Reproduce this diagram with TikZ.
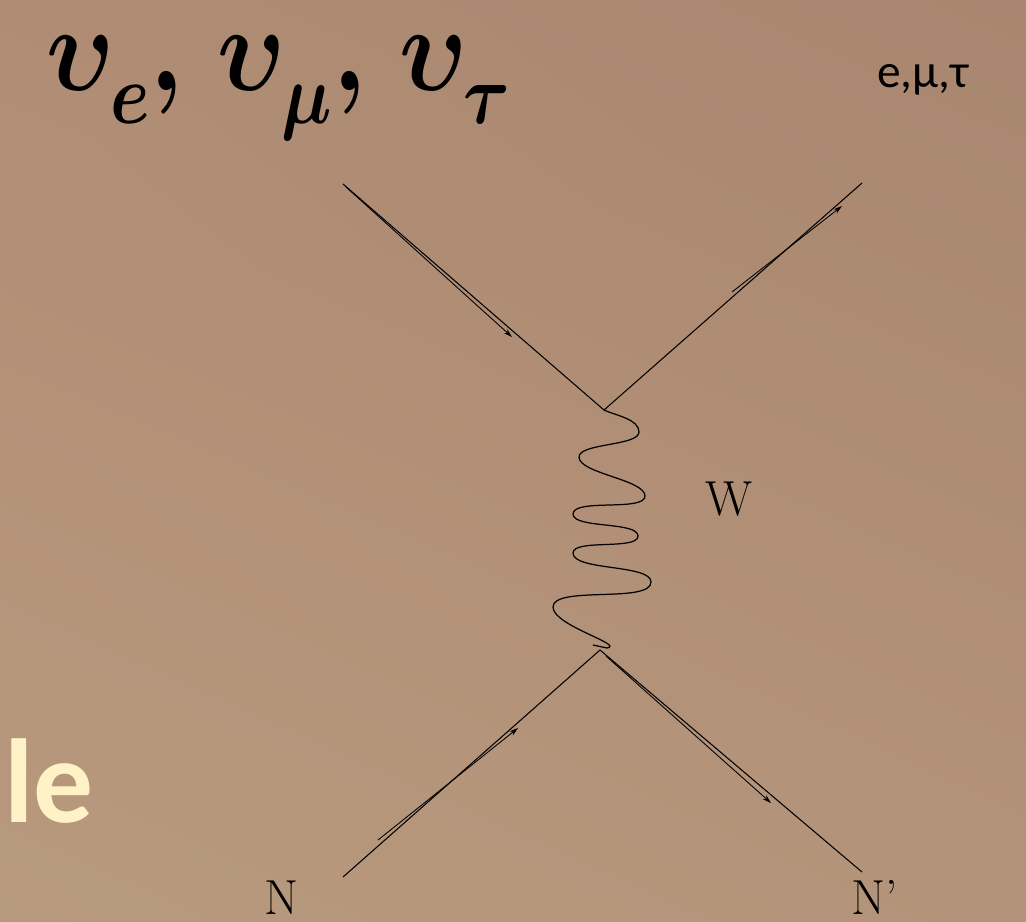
\RequirePackage{fix-cm}
\documentclass[tikz,border=0pt]{standalone}
\usepackage{amsmath, amssymb, bm}
\usepackage{fontspec}
\newfontfamily\calib{Carlito}
\usetikzlibrary{arrows.meta, shadings}
\definecolor{bgTL}{HTML}{B08C74}
\definecolor{bgTR}{HTML}{A8866F}
\definecolor{bgBL}{HTML}{B89A7E}
\definecolor{bgBR}{HTML}{B39379}
\definecolor{paleyellow}{HTML}{FFF2C6}
\newcommand{\lowsub}[1]{_{\raisebox{-0.12em}{\boldmath$\scriptstyle #1$}}}
\tikzset{
  fermion/.style={line width=0.6pt},
  flow/.style={line width=0.5pt, -{Stealth[length=5pt,width=3pt]}},
  boson/.style={line width=0.7pt},
  wig/.style={out=-90, in=90, looseness=0.55},
  lbl/.style={anchor=base west, inner sep=0pt, text=black}
}
\begin{document}
\begin{tikzpicture}[x=0.02cm, y=-0.02cm]
        % Background
        \shade[upper left=bgTL, upper right=bgTR, lower left=bgBL, lower right=bgBR]
            (0,0) rectangle (1026,921);
        \useasboundingbox (0,0) rectangle (1026,921);

        % Coordinates
        \coordinate (nuIn) at (343,184);
        \coordinate (lepOut) at (862,183);
        \coordinate (vTop) at (604,410);
        \coordinate (vBot) at (600,650);
        \coordinate (nIn) at (343,877);
        \coordinate (nOut) at (862,872);
        \coordinate (A) at (346,187);
        \coordinate (B) at (512,337);
        \coordinate (C) at (732,292);
        \coordinate (D) at (842,206);
        \coordinate (E) at (378,840);
        \coordinate (F) at (518,728);
        \coordinate (G) at (606,656);
        \coordinate (H) at (771,803);

        % Drawing
        \draw[fermion] (nuIn) -- (vTop) -- (lepOut);
        \draw[fermion] (nIn) -- (vBot) -- (nOut);
        \draw[flow] (A) -- (B);
        \draw[flow] (C) -- (D);
        \draw[flow] (E) -- (F);
        \draw[flow] (G) -- (H);
        \draw[boson] (vTop) to[out=-25,in=90,looseness=0.8] (639,432)
            to[wig] (579,457)
            to[wig] (645,496)
            to[wig] (573,514)
            to[wig] (638,536)
            to[wig] (573,553)
            to[wig] (651,582)
            to[wig] (553,607)
            to[out=-90,in=10,looseness=0.7] (607,648) -- (593,645);

        % Labels
        \node[lbl] (title) at (46,90) {\fontsize{58}{64}\selectfont
            \scalebox{1}[1.2]{$\bm{\upsilon}\lowsub{e}\bm{,}\, \bm{\upsilon}\lowsub{\mu}\bm{,}\, \bm{\upsilon}\lowsub{\tau}$}};
        \node[lbl] (lep) at (877,87) {\fontsize{27}{30}\selectfont\calib e,μ,τ};
        \node[lbl] (wlbl) at (705,515) {\fontsize{28}{30}\selectfont W};
        \node[lbl] (nlbl) at (264,914) {\fontsize{28}{30}\selectfont N};
        \node[lbl] (nplbl) at (851,914) {\fontsize{28}{30}\selectfont N’};
        \node[lbl, text=paleyellow] (frag) at (4,822) {\fontsize{68}{70}\selectfont\calib\bfseries le};
    \end{tikzpicture}
\end{document}
